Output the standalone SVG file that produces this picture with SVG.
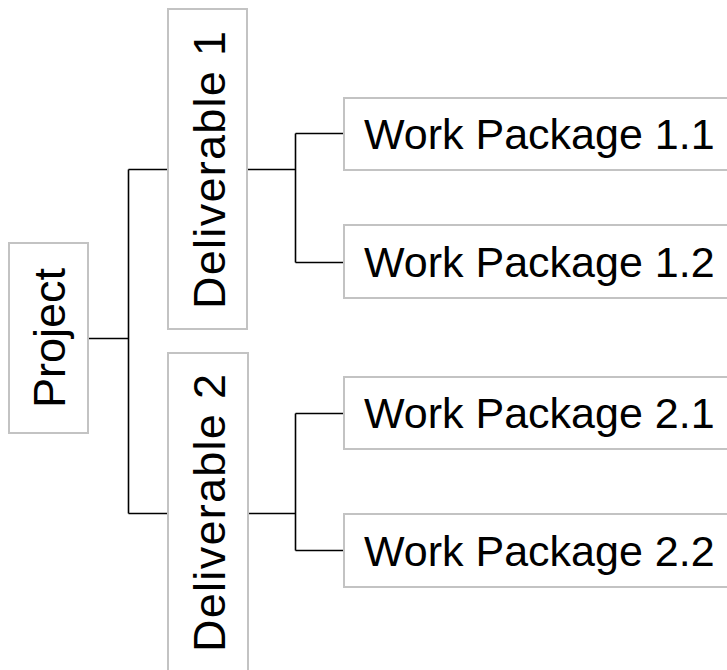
<svg xmlns="http://www.w3.org/2000/svg" width="727" height="670" viewBox="0 0 727 670">
<style>
.box{fill:#ffffff;stroke:#c3c3c3;stroke-width:2}
.lbl{font-family:"Liberation Sans",Arial,sans-serif;font-size:45px;fill:#000000}
.wp{font-family:"Liberation Sans",Arial,sans-serif;font-size:43px;fill:#000000}
.con{fill:none;stroke:#000000;stroke-width:1.6}
</style>
<rect width="727" height="670" fill="#ffffff"/>
<g id="connectors">
<path class="con" d="M88,338.5H128.5M128.5,169.5V513.5M128.5,169.5H168M128.5,513.5H168"/>
<path class="con" d="M247,169.5H295.5M295.5,133.5V262.5M295.5,133.5H344M295.5,262.5H344"/>
<path class="con" d="M248,513.5H295.5M295.5,413.5V550.5M295.5,413.5H344M295.5,550.5H344"/>
</g>
<g id="project">
<rect class="box" x="9" y="243" width="79" height="190"/>
<text class="lbl" transform="translate(65,338) rotate(-90)" text-anchor="middle" font-size="44">Project</text>
</g>
<g id="deliverable1">
<rect class="box" x="168" y="9" width="79" height="320"/>
<text class="lbl" transform="translate(225,170) rotate(-90)" text-anchor="middle" textLength="278" lengthAdjust="spacing">Deliverable 1</text>
</g>
<g id="deliverable2">
<rect class="box" x="168" y="353" width="80" height="330"/>
<text class="lbl" transform="translate(225,513) rotate(-90)" text-anchor="middle" textLength="278" lengthAdjust="spacing">Deliverable 2</text>
</g>
<g id="wp11">
<rect class="box" x="344" y="98" width="420" height="72"/>
<text class="wp" x="364" y="149">Work Package 1.1</text>
</g>
<g id="wp12">
<rect class="box" x="344" y="225" width="420" height="73"/>
<text class="wp" x="364" y="277">Work Package 1.2</text>
</g>
<g id="wp21">
<rect class="box" x="344" y="377" width="420" height="72"/>
<text class="wp" x="364" y="428">Work Package 2.1</text>
</g>
<g id="wp22">
<rect class="box" x="344" y="514" width="420" height="73"/>
<text class="wp" x="364" y="566">Work Package 2.2</text>
</g>
</svg>
